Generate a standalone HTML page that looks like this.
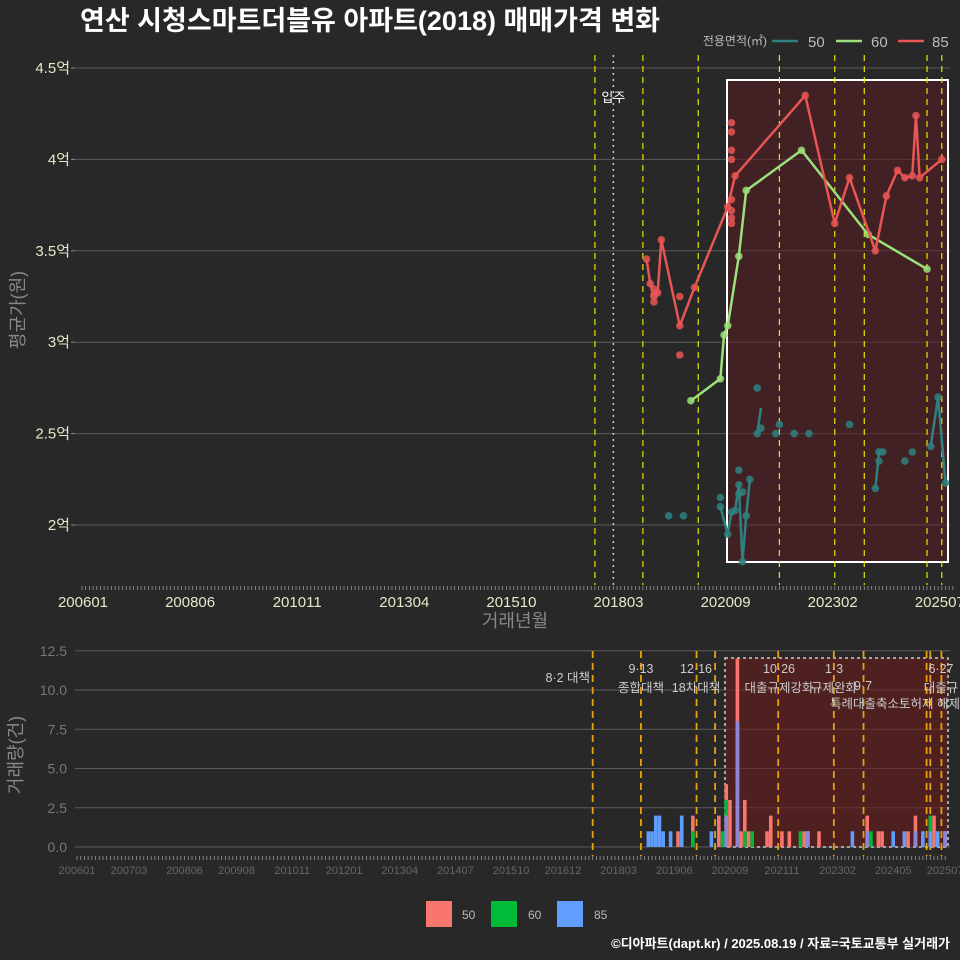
<!DOCTYPE html>
<html><head><meta charset="utf-8">
<style>
html,body{margin:0;padding:0;background:#282828;}
svg{display:block;font-family:"Liberation Sans","Noto Sans CJK KR",sans-serif;}
</style></head>
<body>
<svg id="c" width="960" height="960" viewBox="0 0 960 960">
<rect x="0" y="0" width="960" height="960" fill="#282828"/>
<text x="80" y="30" fill="#ffffff" font-size="27" font-weight="bold">연산 시청스마트더블유 아파트(2018) 매매가격 변화</text>
<text x="767" y="45" fill="#bbbbbb" font-size="12" text-anchor="end">전용면적(㎡)</text>
<g><line x1="772" y1="41" x2="798" y2="41" stroke="#2f8080" stroke-width="2.5"/><text x="808" y="47" fill="#bbbbbb" font-size="15">50</text></g>
<g><line x1="836" y1="41" x2="862" y2="41" stroke="#9be07a" stroke-width="2.5"/><text x="871" y="47" fill="#bbbbbb" font-size="15">60</text></g>
<g><line x1="898" y1="41" x2="924" y2="41" stroke="#e85555" stroke-width="2.5"/><text x="932" y="47" fill="#bbbbbb" font-size="15">85</text></g>
<text transform="translate(24,310) rotate(-90)" fill="#888888" font-size="18" text-anchor="middle">평균가(원)</text>
<text x="515" y="627" fill="#888888" font-size="18" text-anchor="middle">거래년월</text>
<text transform="translate(22,755) rotate(-90)" fill="#888888" font-size="18" text-anchor="middle">거래량(건)</text>
<g>
<rect x="426" y="901" width="26" height="26" fill="#f8766d"/><text x="462" y="919" fill="#bbbbbb" font-size="12">50</text>
<rect x="491" y="901" width="26" height="26" fill="#00ba38"/><text x="528" y="919" fill="#bbbbbb" font-size="12">60</text>
<rect x="557" y="901" width="26" height="26" fill="#619cff"/><text x="594" y="919" fill="#bbbbbb" font-size="12">85</text>
</g>
<text x="950" y="948" fill="#ffffff" font-size="13" font-weight="bold" text-anchor="end">©디아파트(dapt.kr) / 2025.08.19 / 자료=국토교통부 실거래가</text>
<g id="topg"></g>
<g id="botg"></g>
</svg>
<script>
// ---- data ----
const priceTicks = [2, 2.5, 3, 3.5, 4, 4.5];
const priceTickLabels = ["2억", "2.5억", "3억", "3.5억", "4억", "4.5억"];
const xTickLabelsTop = ["200601","200806","201011","201304","201510","201803","202009","202302","202507"];
const xTickLabelsBot = ["200601","200703","200806","200908","201011","201201","201304","201407","201510","201612","201803","201906","202009","202111","202302","202405","202507"];
const volTicks = [0, 2.5, 5, 7.5, 10, 12.5];
const volTickLabels = ["0.0","2.5","5.0","7.5","10.0","12.5"];
const policyMonthsTop = ["201708","201809","201912","202110","202301","202309","202502","202506"];
const policyMonthsBot = ["201708","201809","201912","202005","202110","202301","202309","202502","202503","202506"];
const moveInMonth = "201801";
const s85Months = ["201810","201811","201812","201901","201902","201907","201911","202008","202010","202205","202301","202305","202312","202403","202406","202408","202410","202411","202412","202506"];
const s85Values = [3.455,3.32,3.26,3.27,3.56,3.09,3.30,3.74,3.91,4.35,3.65,3.90,3.50,3.80,3.94,3.90,3.91,4.24,3.90,4.00];
const s85ExtraMonths = ["201812","201812","201812","201907","201907","202009","202009","202009","202009","202009","202009","202009","202009"];
const s85ExtraValues = [3.22,3.29,3.25,3.25,2.93,4.20,4.15,4.05,4.00,3.78,3.72,3.68,3.65];
const s60Months = ["201910","202006","202007","202008","202011","202101","202204","202310","202502"];
const s60Values = [2.68,2.80,3.04,3.09,3.47,3.83,4.05,3.59,3.40];
const s50Months = ["202006","202008","202009","202010","202011","202012","202101","202102"];
const s50Values = [2.10,1.95,2.07,2.08,2.22,1.80,2.05,2.25];
const s50ExtraMonths = ["201904","201908","202006","202011","202011","202012","202104","202104","202105","202109","202110","202202","202206","202305","202401","202402","202408","202410"];
const s50ExtraValues = [2.05,2.05,2.15,2.30,2.17,2.18,2.50,2.75,2.53,2.50,2.55,2.50,2.50,2.55,2.35,2.40,2.35,2.40];
const s50Seg2Months = ["202104","202105"]; const s50Seg2Values = [2.50,2.64];
const s50Seg3Months = ["202312","202401"]; const s50Seg3Values = [2.20,2.40];
const s50Seg4Months = ["202503","202505","202507"]; const s50Seg4Values = [2.43,2.70,2.23];
const vol50Months = ["201907","201911","202006","202008","202009","202011","202012","202101","202102","202107","202108","202111","202201","202205","202206","202209","202310","202401","202402","202409","202411","202504","202507"];
const vol50Counts = [1,2,2,4,3,12,1,3,1,1,2,1,1,1,1,1,2,1,1,1,2,2,1];
const vol60Months = ["201911","202007","202008","202101","202103","202204","202311","202503"];
const vol60Counts = [1,1,3,1,1,1,1,2];
const vol85Months = ["201811","201812","201901","201902","201903","201905","201908","202004","202008","202011","202206","202306","202310","202405","202408","202411","202501","202503","202505","202507"];
const vol85Counts = [1,1,2,2,1,1,2,1,2,8,1,1,1,1,1,1,1,1,1,1];
</script>
<script>
const NS="http://www.w3.org/2000/svg";
function mk(tag,attrs,parent,txt){const e=document.createElementNS(NS,tag);for(const k in attrs)e.setAttribute(k,attrs[k]);if(txt!==undefined)e.textContent=txt;parent.appendChild(e);return e;}
function mi(s){return (parseInt(s.slice(0,4))-2006)*12+parseInt(s.slice(4,6))-1;}
const xT=s=>82+mi(s)*3.69;
const yT=v=>525-(v-2)*182.8;
const xB=s=>77+mi(s)*3.71;
const yB=v=>847-v*15.7;
const gTop=document.getElementById('topg'), gBot=document.getElementById('botg');

priceTicks.forEach((v,i)=>{
 const g=mk('line',{x1:75,x2:950,y1:yT(v),y2:yT(v),stroke:'#5a5a5a','stroke-width':1},gTop);
 
 
 const t=mk('text',{x:70,y:yT(v)+5,fill:'#e8e8c8','font-size':15,'text-anchor':'end'},gTop,priceTickLabels[i]);
 
 
 mk('line',{x1:71,x2:75,y1:yT(v),y2:yT(v),stroke:'#888'},gTop);
});
const hr=mk('rect',{x:727,y:80,width:221,height:482,fill:'rgba(90,25,30,0.5)',stroke:'#ffffff','stroke-width':2},gTop);


policyMonthsTop.forEach(m=>{
 const l=mk('line',{x1:xT(m),x2:xT(m),y1:55,y2:585,stroke:'#e6e600','stroke-width':1.2,'stroke-dasharray':'6,5'},gTop);
 
 
});
const mv=mk('line',{x1:xT(moveInMonth),x2:xT(moveInMonth),y1:55,y2:585,stroke:'#cccccc','stroke-width':1.5,'stroke-dasharray':'2,4'},gTop);


const mvt=mk('text',{x:xT(moveInMonth),y:102,fill:'#ffffff','font-size':13,'text-anchor':'middle'},gTop,'입주');


for(let m=0;m<=236;m++){mk('line',{x1:82+m*3.69,x2:82+m*3.69,y1:586,y2:590,stroke:'#999','stroke-width':0.8},gTop);}
xTickLabelsTop.forEach((s,i)=>{
 const t=mk('text',{x:83+i*107.1,y:607,fill:'#e8e8c8','font-size':15,'text-anchor':'middle'},gTop,s);
 
 
});
function line(ms,vs,color,name){
 const p=mk('polyline',{points:ms.map((m,i)=>xT(m)+','+yT(vs[i])).join(' '),fill:'none',stroke:color,'stroke-width':2.5,'stroke-linejoin':'round'},gTop);
 
 
}
function dots(ms,vs,color,name){
 ms.forEach((m,i)=>{
  const c=mk('circle',{cx:xT(m),cy:yT(vs[i]),r:3.8,fill:color,'fill-opacity':0.85},gTop);
  
  
 });
}
const C50='#2f8080',C60='#9be07a',C85='#e85555';
line(s50Months,s50Values,C50,'series-50-line');
line(s50Seg2Months,s50Seg2Values,C50,'series-50-line');
line(s50Seg3Months,s50Seg3Values,C50,'series-50-line');
line(s50Seg4Months,s50Seg4Values,C50,'series-50-line');
dots(s50Months,s50Values,C50,'series-50-point');
dots(s50ExtraMonths,s50ExtraValues,C50,'series-50-point');
dots(s50Seg3Months,s50Seg3Values,C50,'series-50-point');
dots(s50Seg4Months,s50Seg4Values,C50,'series-50-point');
line(s60Months,s60Values,C60,'series-60-line');
dots(s60Months,s60Values,C60,'series-60-point');
line(s85Months,s85Values,C85,'series-85-line');
dots(s85Months,s85Values,C85,'series-85-point');
dots(s85ExtraMonths,s85ExtraValues,C85,'series-85-point');

volTicks.forEach((v,i)=>{
 const g=mk('line',{x1:75,x2:950,y1:yB(v),y2:yB(v),stroke:'#5a5a5a'},gBot);
 
 
 const t=mk('text',{x:67,y:yB(v)+5,fill:'#777','font-size':14,'text-anchor':'end'},gBot,volTickLabels[i]);
 
 
});
const br=mk('rect',{x:725,y:658,width:223,height:189,fill:'rgba(110,25,25,0.55)',stroke:'#cccccc','stroke-width':1.5,'stroke-dasharray':'3,3'},gBot);


policyMonthsBot.forEach(m=>{
 const l=mk('line',{x1:xB(m),x2:xB(m),y1:651,y2:856,stroke:'#e8a010','stroke-width':1.8,'stroke-dasharray':'7,5'},gBot);
 
 
});
function bars(ms,cs,color,name){
 ms.forEach((m,i)=>{
  const r=mk('rect',{x:xB(m)-1.8,y:yB(cs[i]),width:3.6,height:cs[i]*15.7,fill:color},gBot);
  
  
 });
}
bars(vol50Months,vol50Counts,'#f8766d','volume-bar-50');
bars(vol60Months,vol60Counts,'#00ba38','volume-bar-60');
bars(vol85Months,vol85Counts,'#619cff','volume-bar-85');
vol85Months.forEach((m,i)=>{
 const j=vol50Months.indexOf(m);
 if(j<0) return;
 const h=Math.min(vol50Counts[j],vol85Counts[i]);
 const r=mk('rect',{x:xB(m)-1.8,y:yB(h),width:3.6,height:h*15.7,fill:'#8d86d6'},gBot);
 
 
});
for(let m=0;m<=234;m++){mk('line',{x1:77+m*3.71,x2:77+m*3.71,y1:856,y2:860,stroke:'#999','stroke-width':0.8},gBot);}
xTickLabelsBot.forEach(s=>{
 const t=mk('text',{x:xB(s),y:874,fill:'#666','font-size':11,'text-anchor':'middle'},gBot,s);
 
 
});
const labs=[[590,682,'8·2 대책','end'],[641,673,'9·13','middle'],[641,692,'종합대책','middle'],[696,673,'12·16','middle'],[696,692,'18차대책','middle'],[779,673,'10·26','middle'],[779,692,'대출규제강화','middle'],[834,673,'1·3','middle'],[834,692,'규제완화','middle'],[863,690,'9·7','middle'],[830,708,'특례대출축소토허제 해제','start'],[941,673,'6·27','middle'],[941,692,'대출규','middle']];
labs.forEach(a=>{
 const t=mk('text',{x:a[0],y:a[1],fill:'#cccccc','font-size':12.5,'text-anchor':a[3]},gBot,a[2]);
 
 
});
</script>
</body></html>
